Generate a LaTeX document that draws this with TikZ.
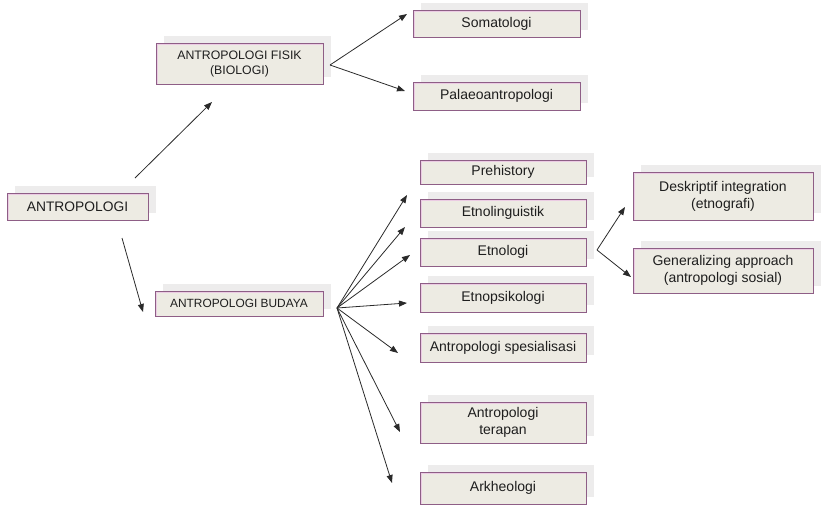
\documentclass[tikz,border=0pt]{standalone}
\usepackage{fontspec}
\setmainfont{Liberation Sans}
\usetikzlibrary{arrows.meta,shadows}
\definecolor{boxfill}{HTML}{EDEBE3}
\definecolor{boxline}{HTML}{8E5E86}
\definecolor{boxdark}{HTML}{6E4868}
\definecolor{boxpink}{HTML}{EBCBE3}
\definecolor{shadowc}{HTML}{EDECEC}
\definecolor{arrowc}{HTML}{2A2A2A}
\definecolor{textc}{HTML}{1E1E1E}
\begin{document}
\begin{tikzpicture}[x=1pt,y=-1pt,
  box/.style={draw=boxline, line width=1pt, fill=boxfill, inner sep=0pt, align=center,
    general shadow={fill=shadowc, draw=none, shadow xshift=8pt, shadow yshift=7pt},
    path picture={
      \draw[boxpink,line width=3.5pt] (path picture bounding box.south west) -- (path picture bounding box.north west) -- (path picture bounding box.north east);
      \draw[boxdark,line width=2.5pt] (path picture bounding box.south west) -- (path picture bounding box.north west);
    },
    font=\fontsize{14}{17}\selectfont, text=textc},
  capbig/.style={font=\fontsize{13.8}{16}\selectfont},
  capsmall/.style={font=\fontsize{12.3}{15}\selectfont},
  conn/.style={draw=arrowc, line width=0.8pt, -{Triangle[length=8pt,width=6pt]}}
]
\useasboundingbox (0,0) rectangle (822,506);

% nodes
\node[box,capbig,minimum width=141pt,minimum height=27pt] (root) at (77.5,206.5) {ANTROPOLOGI};
\node[box,capsmall,minimum width=167pt,minimum height=41pt] (fisik) at (239.5,63.5) {ANTROPOLOGI FISIK\\(BIOLOGI)};
\node[box,font=\fontsize{11.9}{14}\selectfont,minimum width=168pt,minimum height=25pt] (budaya) at (239,303.5) {ANTROPOLOGI BUDAYA};

\node[box,minimum width=167pt,minimum height=27pt] (soma) at (496.5,23.5) {Somatologi};
\node[box,minimum width=167pt,minimum height=28pt] (palaeo) at (496.5,96) {Palaeoantropologi};

\node[box,minimum width=166pt,minimum height=24pt] (pre) at (503,172) {Prehistory};
\node[box,minimum width=166pt,minimum height=28pt] (ling) at (503,213) {Etnolinguistik};
\node[box,minimum width=166pt,minimum height=28pt] (etno) at (503,252) {Etnologi};
\node[box,minimum width=166pt,minimum height=29pt] (psi) at (503,297.5) {Etnopsikologi};
\node[box,minimum width=166pt,minimum height=29pt] (spes) at (503,347.5) {Antropologi spesialisasi};
\node[box,minimum width=166pt,minimum height=41pt] (terap) at (503,422.5) {Antropologi\\terapan};
\node[box,minimum width=166pt,minimum height=32pt] (arkh) at (503,488) {Arkheologi};

\node[box,minimum width=180pt,minimum height=48pt] (desk) at (723,196) {Deskriptif integration\\(etnografi)};
\node[box,minimum width=180pt,minimum height=45pt] (gen) at (723,270.5) {Generalizing approach\\(antropologi sosial)};

% connector ends
\coordinate (rootA) at (135,178);
\coordinate (rootB) at (122,238);
\coordinate (fisikT) at (212,102);
\coordinate (budayaT) at (143,312);
\coordinate (fisikO) at (330,65);
\coordinate (somaT) at (407,14);
\coordinate (palaeoT) at (405,91);
\coordinate (budO) at (337,308);
\coordinate (preT) at (407,195);
\coordinate (lingT) at (405,227);
\coordinate (etnoT) at (410,255);
\coordinate (psiT) at (407,303);
\coordinate (spesT) at (398,353);
\coordinate (terapT) at (400,432);
\coordinate (arkhT) at (392,483);
\coordinate (etnoO) at (597,250);
\coordinate (deskT) at (625,207);
\coordinate (genT) at (631,277);

% connectors
\draw[conn] (rootA) -- (fisikT);
\draw[conn] (rootB) -- (budayaT);
\draw[conn] (fisikO) -- (somaT);
\draw[conn] (fisikO) -- (palaeoT);
\foreach \t in {preT,lingT,etnoT,psiT,spesT,terapT,arkhT}
  \draw[conn] (budO) -- (\t);
\draw[conn] (etnoO) -- (deskT);
\draw[conn] (etnoO) -- (genT);
\end{tikzpicture}
\end{document}
